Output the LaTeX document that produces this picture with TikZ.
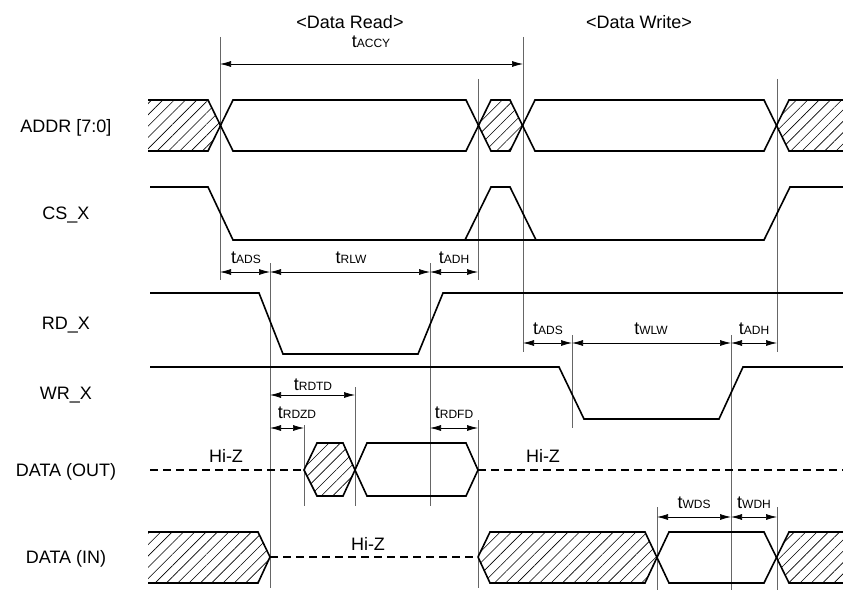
\documentclass[tikz,border=0pt]{standalone}
\usepackage{fontspec}
\setmainfont{Liberation Sans}
\usetikzlibrary{arrows.meta,patterns.meta}
\tikzset{
  sig/.style={line width=1.6pt, line join=miter},
  guide/.style={line width=0.8pt, black!60},
  dimline/.style={line width=0.7pt, {Latex[length=11pt,width=6pt]}-{Latex[length=11pt,width=6pt]}},
  hatch/.style={pattern={Lines[angle=45,distance=8pt,line width=0.6pt]}},
  hiz/.style={line width=1.4pt, dash pattern=on 8pt off 5pt},
  lbl/.style={font=\fontsize{18}{21}\selectfont, anchor=base, inner sep=0pt},
}
\newcommand{\tlbl}[1]{t{\fontsize{12}{14}\selectfont #1}}

\begin{document}
\begin{tikzpicture}[x=1pt,y=-1pt]
      \useasboundingbox (0,0) rectangle (843,591);
      % headings
      \node[lbl] (read) at (350,29) {<Data Read>};
      \node[lbl] (write) at (639,29) {<Data Write>};
    
      % signal names
      \node[lbl] (addr) at (66,133) {ADDR [7:0]};
      \node[lbl] (cs) at (66,219) {CS\_X};
      \node[lbl] (rd) at (66,329) {RD\_X};
      \node[lbl] (wr) at (66,399) {WR\_X};
      \node[lbl] (dout) at (66,476) {DATA (OUT)};
      \node[lbl] (din) at (66,563) {DATA (IN)};
    
      % guide lines
      \foreach \x/\ya/\yb in {220/37/280, 523/37/352, 478/79/280, 478/420/588,
          777/79/352, 777/507/590, 270/263/588, 430/263/506, 572/335/428,
          731/335/590, 355/387/506, 304/425/506, 657/507/590}
        \draw[guide] (\x,\ya) -- (\x,\yb);
    
      % ADDR
      \fill[hatch] (148,100) -- (208,100) -- (220.5,125.5) -- (208,151) -- (148,151) -- cycle;
      \fill[hatch] (478.5,125.5) -- (491,100) -- (510,100) -- (522.5,125.5) -- (510,151) -- (491,151) -- cycle;
      \fill[hatch] (776.5,125.5) -- (789,100) -- (843,100) -- (843,151) -- (789,151) -- cycle;
      \draw[sig] (148,100) -- (208,100) -- (233,151) -- (466,151) -- (491,100) -- (510,100)
          -- (535,151) -- (764,151) -- (789,100) -- (843,100);
      \draw[sig] (148,151) -- (208,151) -- (233,100) -- (466,100) -- (491,151) -- (510,151)
          -- (535,100) -- (764,100) -- (789,151) -- (843,151);
    
      % CS_X
      \draw[sig] (150,187) -- (208,187) -- (233,240) -- (764,240) -- (790,187) -- (843,187);
      \draw[sig] (465,240) -- (491,187) -- (510,187) -- (536,240);
    
      % RD_X, WR_X
      \draw[sig] (150,293) -- (259,293) -- (283,354) -- (418,354) -- (443,293) -- (843,293);
      \draw[sig] (150,367) -- (559,367) -- (584,419) -- (719,419) -- (743,367) -- (843,367);
    
      % DATA (OUT)
      \draw[hiz] (150,470) -- (304,470);
      \draw[sig,hatch] (304,470) -- (317,443) -- (343,443) -- (355,470) -- (343,496) -- (317,496) -- cycle;
      \draw[sig] (355,470) -- (367,443) -- (466,443) -- (478,470) -- (466,496) -- (367,496) -- cycle;
      \draw[hiz] (478,470) -- (843,470);
    
      % DATA (IN)
      \fill[hatch] (148,532) -- (258,532) -- (270,557) -- (258,583) -- (148,583) -- cycle;
      \draw[sig] (148,532) -- (258,532) -- (270,557) -- (258,583) -- (148,583);
      \draw[hiz] (270,557) -- (478,557);
      \fill[hatch] (478,557) -- (490,532) -- (645,532) -- (657,557) -- (645,583) -- (490,583) -- cycle;
      \fill[hatch] (776.5,557) -- (789,532) -- (843,532) -- (843,583) -- (789,583) -- cycle;
      \draw[sig] (478,557) -- (490,532) -- (645,532) -- (669,583) -- (764,583) -- (789,532) -- (843,532);
      \draw[sig] (478,557) -- (490,583) -- (645,583) -- (669,532) -- (764,532) -- (789,583) -- (843,583);
    
      % Hi-Z
      \node[lbl] (hiz1) at (226,462) {Hi-Z};
      \node[lbl] (hiz2) at (543,462) {Hi-Z};
      \node[lbl] (hiz3) at (368,550) {Hi-Z};
    
      % timing
      \draw[dimline] (220,64) -- (523,64);
      \node[lbl] (accy) at (371,48) {\tlbl{ACCY}};
      \draw[dimline] (220,272) -- (270,272);
      \draw[dimline] (270,272) -- (430,272);
      \draw[dimline] (430,272) -- (478,272);
      \node[lbl] (ads1) at (246,263) {\tlbl{ADS}};
      \node[lbl] (rlw) at (351,263) {\tlbl{RLW}};
      \node[lbl] (adh1) at (454,263) {\tlbl{ADH}};
      \draw[dimline] (523,343) -- (572,343);
      \draw[dimline] (572,343) -- (731,343);
      \draw[dimline] (731,343) -- (777,343);
      \node[lbl] (ads2) at (548,334) {\tlbl{ADS}};
      \node[lbl] (wlw) at (651,334) {\tlbl{WLW}};
      \node[lbl] (adh2) at (754,334) {\tlbl{ADH}};
      \draw[dimline] (270,395) -- (355,395);
      \node[lbl] (rdtd) at (313,390) {\tlbl{RDTD}};
      \draw[dimline] (270,428) -- (304,428);
      \node[lbl] (rdzd) at (297,418) {\tlbl{RDZD}};
      \draw[dimline] (430,428) -- (478,428);
      \node[lbl] (rdfd) at (454,418) {\tlbl{RDFD}};
      \draw[dimline] (657,517) -- (731,517);
      \draw[dimline] (731,517) -- (777,517);
      \node[lbl] (wds) at (694,508) {\tlbl{WDS}};
      \node[lbl] (wdh) at (754,508) {\tlbl{WDH}};
    \end{tikzpicture}
\end{document}
